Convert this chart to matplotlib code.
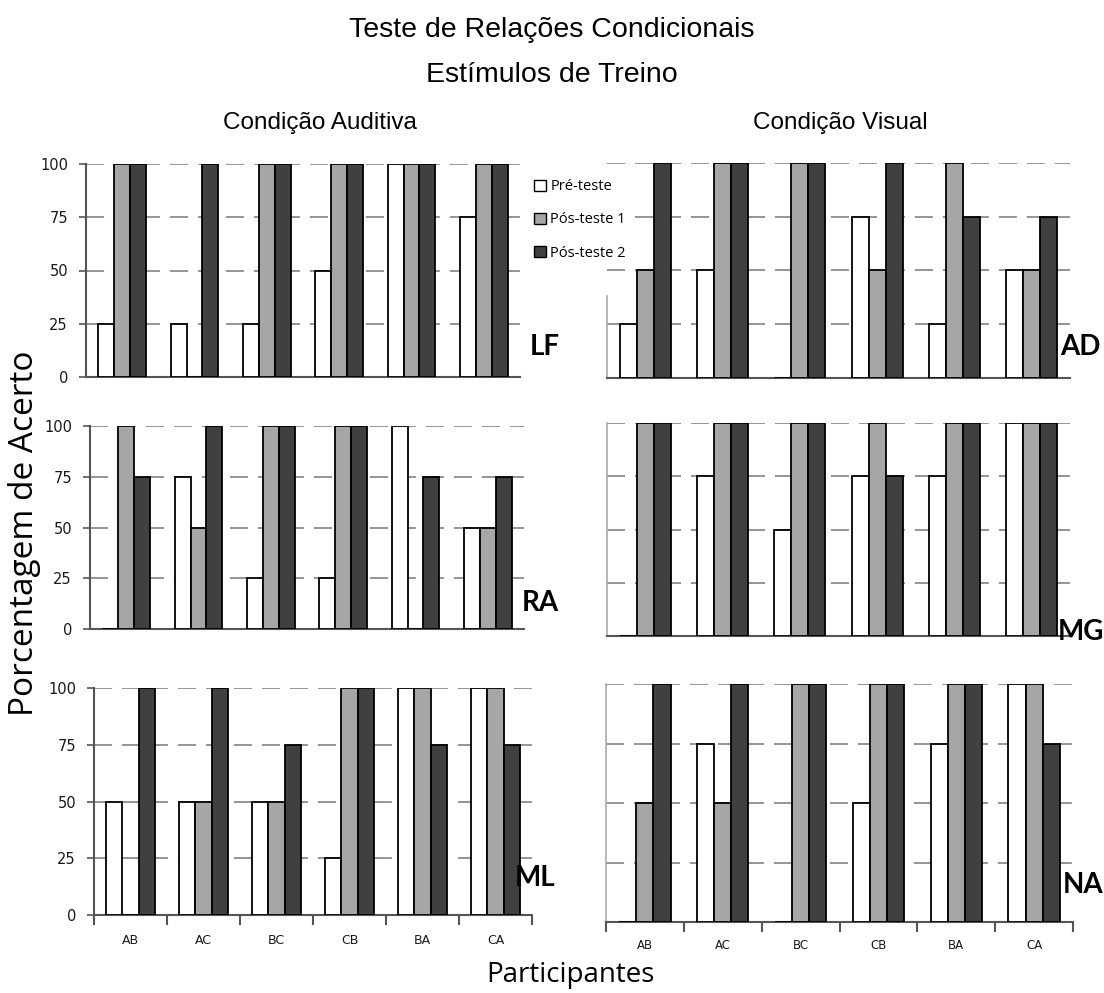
import numpy as np
import matplotlib
matplotlib.use("Agg")
import matplotlib.pyplot as plt
from matplotlib.patches import Patch

relacoes = ["AB", "AC", "BC", "CB", "BA", "CA"]
series = ["Pré-teste", "Pós-teste 1", "Pós-teste 2"]

# auditiva (coluna esquerda)
lf_pre = [25, 25, 25, 50, 100, 75]
lf_pos1 = [100, 0, 100, 100, 100, 100]
lf_pos2 = [100, 100, 100, 100, 100, 100]
ra_pre = [0, 75, 25, 25, 100, 50]
ra_pos1 = [100, 50, 100, 100, 0, 50]
ra_pos2 = [75, 100, 100, 100, 75, 75]
ml_pre = [50, 50, 50, 25, 100, 100]
ml_pos1 = [0, 50, 50, 100, 100, 100]
ml_pos2 = [100, 100, 75, 100, 75, 75]

# visual (coluna direita)
ad_pre = [25, 50, 0, 75, 25, 50]
ad_pos1 = [50, 100, 100, 50, 100, 50]
ad_pos2 = [100, 100, 100, 100, 75, 75]
mg_pre = [0, 75, 50, 75, 75, 100]
mg_pos1 = [100, 100, 100, 100, 100, 100]
mg_pos2 = [100, 100, 100, 75, 100, 100]
na_pre = [0, 75, 0, 50, 75, 100]
na_pos1 = [50, 50, 100, 100, 100, 100]
na_pos2 = [100, 100, 100, 100, 100, 75]

cores = ["white", "#a6a6a6", "#404040"]
W, H = 1104, 993

fig = plt.figure(figsize=(W / 100, H / 100), dpi=100)

def px_axes(x0, x1, ybot, ytop):
    return fig.add_axes([x0 / W, 1 - ybot / H, (x1 - x0) / W, (ybot - ytop) / H])

paineis = [
    ("LF", (lf_pre, lf_pos1, lf_pos2), (86, 520, 377, 164), "left", (530, 347)),
    ("RA", (ra_pre, ra_pos1, ra_pos2), (90, 524, 629, 426), "left", (522, 603)),
    ("ML", (ml_pre, ml_pos1, ml_pos2), (94, 532, 915, 688), "left", (515, 878)),
    ("AD", (ad_pre, ad_pos1, ad_pos2), (607, 1070, 378, 163), "right", (1060, 347)),
    ("MG", (mg_pre, mg_pos1, mg_pos2), (607, 1070, 636, 423), "right", (1058, 632)),
    ("NA", (na_pre, na_pos1, na_pos2), (606, 1073, 922, 684), "right", (1063, 885)),
]

x = np.arange(len(relacoes))
bw = 0.22
for nome, vals, (x0, x1, yb, yt), lado, (lx, ly) in paineis:
    ax = px_axes(x0, x1, yb, yt)
    for k, v in enumerate(vals):
        ax.bar(x + (k - 1) * bw, v, bw, color=cores[k], edgecolor="black",
               linewidth=1.3, zorder=3)
    ax.set_xlim(-0.5, len(relacoes) - 0.5)
    ax.set_ylim(0, 100)
    ax.set_yticks([0, 25, 50, 75, 100])
    ax.yaxis.grid(True, color="#8c8c8c", linestyle=(0, (10, 5.5)), linewidth=1.3, zorder=0)
    ax.set_axisbelow(True)
    for s in ["top", "right"]:
        ax.spines[s].set_visible(False)
    ax.spines["bottom"].set_color("#555555")
    ax.spines["bottom"].set_linewidth(1.5)
    if lado == "left":
        ax.spines["left"].set_color("#555555")
        ax.spines["left"].set_linewidth(1.5)
        ax.tick_params(axis="y", length=5, width=1.2, color="#555555",
                       labelsize=10.5, pad=8, labelcolor="#1a1a1a")
    else:
        ax.spines["left"].set_color("#aaaaaa")
        ax.spines["left"].set_linewidth(1.2)
        ax.tick_params(axis="y", length=0, labelleft=False)
        if nome == "AD":
            ax.spines["left"].set_bounds(0, 38)
    if nome in ("ML", "NA"):
        ax.set_xticks(np.arange(len(relacoes) + 1) - 0.5, minor=True)
        ax.set_xticks(x)
        ax.set_xticklabels(relacoes, fontsize=9 if nome == "ML" else 8.5, color="#1a1a1a")
        ax.tick_params(axis="x", which="major", length=0, pad=14 if nome == "ML" else 12)
        ax.tick_params(axis="x", which="minor", length=7, width=1.5, color="#555555")
    else:
        ax.set_xticks([])
    fig.text(lx / W, 1 - ly / H, nome, fontsize=20, fontweight="bold",
             family=["Lato", "DejaVu Sans"], va="center", ha="left")

titulo_fonte = ["Liberation Sans Narrow", "Liberation Sans"]
fig.text(0.5, 1 - 30 / H, "Teste de Relações Condicionais", ha="center", va="center",
         fontsize=20.5, family=titulo_fonte)
fig.text(0.5, 1 - 75 / H, "Estímulos de Treino", ha="center", va="center",
         fontsize=20.5, family=titulo_fonte)
fig.text(320 / W, 1 - 123 / H, "Condição Auditiva", ha="center", va="center",
         fontsize=17.5, family=titulo_fonte)
fig.text(840 / W, 1 - 123 / H, "Condição Visual", ha="center", va="center",
         fontsize=17.5, family=titulo_fonte)

fig.text(25 / W, 1 - 533 / H, "Porcentagem de Acerto", rotation=90, ha="center",
         va="center", fontsize=24, family=["Open Sans", "DejaVu Sans"])
fig.text(570 / W, 1 - 975 / H, "Participantes", ha="center", va="center",
         fontsize=20, family=["Open Sans", "DejaVu Sans"])

handles = [Patch(facecolor=c, edgecolor="black", linewidth=1.0) for c in cores]
leg = fig.legend(handles, series, loc="upper left", bbox_to_anchor=(524 / W, 1 - 169 / H),
                 frameon=True, facecolor="white", edgecolor="none", framealpha=1,
                 fancybox=False, borderpad=0.2,
                 handlelength=0.8, handleheight=0.8, handletextpad=0.3,
                 labelspacing=1.25, prop={"family": ["Open Sans", "DejaVu Sans"], "size": 10.5})

fig.savefig("out.png", dpi=100)
